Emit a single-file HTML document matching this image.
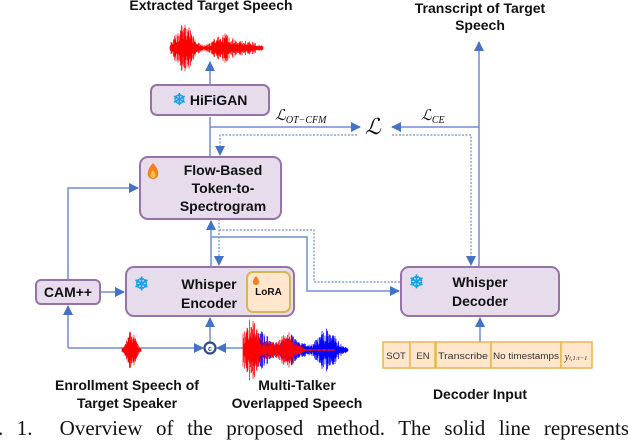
<!DOCTYPE html>
<html><head><meta charset="utf-8"><style>
body{margin:0;width:628px;height:444px;overflow:hidden;background:#fff;position:relative;font-family:"Liberation Sans",sans-serif}
.t{position:absolute;font-weight:bold;font-size:14px;color:#111;text-align:center;white-space:nowrap}
</style></head><body>
<svg width="628" height="444" style="position:absolute;left:0;top:0">
<defs>
<marker id="a" markerWidth="10" markerHeight="10" refX="9" refY="5" orient="auto" markerUnits="userSpaceOnUse"><path d="M0,0 L10,5 L0,10z" fill="#4472c4"/></marker>
</defs>
<g fill="none" stroke="#6f8fd0" stroke-width="1.5">
<path d="M210,115 V62" marker-end="url(#a)"/>
<path d="M210,157 V117"/>
<path d="M210,127 H360" marker-end="url(#a)"/>
<path d="M479,127 H392" marker-end="url(#a)"/>
<path d="M479,267 V42" marker-end="url(#a)"/>
<path d="M211,267 V221" marker-end="url(#a)"/>
<path d="M211,237 H307 V291 H399" marker-end="url(#a)"/>
<path d="M68,280 V188 H138" marker-end="url(#a)"/>
<path d="M100,292 H124" marker-end="url(#a)"/>
<path d="M68,348 V306" marker-end="url(#a)"/>
<path d="M68,348 H203" marker-end="url(#a)"/>
<path d="M245,348 H217" marker-end="url(#a)"/>
<path d="M210,343 V318" marker-end="url(#a)"/>
<path d="M480,342 V318" marker-end="url(#a)"/>
</g>
<g fill="none" stroke="#6f8fd0" stroke-width="1.2" stroke-dasharray="2,1.5">
<path d="M357,135 H220 V155" marker-end="url(#a)"/>
<path d="M392,135 H471 V265" marker-end="url(#a)"/>
<path d="M219,219 V265" marker-end="url(#a)"/>
<path d="M219,230 H314 V282 H400"/>
</g>
<circle cx="210" cy="348" r="5.5" fill="#fff" stroke="#2f4a80" stroke-width="2.2"/>
<text x="210" y="351" font-size="7" text-anchor="middle" font-weight="bold" fill="#2f4a80" font-family="Liberation Sans">c</text>
<g stroke="#9673a6" stroke-width="2" fill="#e6dcec">
<rect x="151" y="85" width="118" height="30" rx="6"/>
<rect x="140" y="157" width="141" height="62" rx="8"/>
<rect x="126" y="267" width="168" height="49" rx="8"/>
<rect x="36" y="280" width="64" height="24" rx="5"/>
<rect x="401" y="267" width="158" height="49" rx="8"/>
</g>
<rect x="247" y="272" width="43" height="40" rx="6" fill="#ffe6cc" stroke="#d6b656" stroke-width="2"/>
<g fill="#ffe6cc" stroke="#e8b94a" stroke-width="1.5">
<rect x="383" y="342" width="27" height="26"/><rect x="410" y="342" width="25" height="26"/><rect x="436" y="342" width="55" height="26"/><rect x="491" y="342" width="70" height="26"/><rect x="561" y="342" width="31" height="26"/>
</g>
<g font-family="Liberation Sans" font-size="9.5" fill="#333" text-anchor="middle">
<text x="396" y="359">SOT</text><text x="423" y="359">EN</text><text x="463" y="359" textLength="50" lengthAdjust="spacingAndGlyphs">Transcribe</text><text x="526" y="359" textLength="66" lengthAdjust="spacingAndGlyphs">No timestamps</text>
<text x="576" y="360" font-family="Liberation Serif" font-style="italic" font-size="10">y<tspan font-size="6.5">i,1:t−1</tspan></text>
</g>
<g fill="#f08020"><path d="M153,163 c-7,7 -7,16 0,16 c7,0 7,-9 0,-16z"/><path d="M256,276 c-4,4 -4,9 0,9 c4,0 4,-5 0,-9z"/></g>
<g fill="#fcc040"><path d="M153,170 c-3.5,3.5 -3.5,8 0,8 c3.5,0 3.5,-4.5 0,-8z"/></g>
<g id="waves"></g>
<g font-family="Liberation Serif" font-style="italic" fill="#111">
<text x="275" y="120" font-size="15">ℒ<tspan font-size="10" dy="3">OT−CFM</tspan></text>
<text x="365" y="134" font-size="22">ℒ</text>
<text x="421" y="120" font-size="15">ℒ<tspan font-size="10" dy="3">CE</tspan></text>
</g>
</svg>
<div class="t" style="left:121px;top:-3px;width:180px">Extracted Target Speech</div>
<div class="t" style="left:395px;top:0px;width:170px;line-height:17px">Transcript of Target<br>Speech</div>
<div class="t" style="left:151px;top:90px;width:118px;font-size:14px"><span style="color:#1ba1e2;font-size:16px">❄</span> HiFiGAN</div>
<div class="t" style="left:158px;top:161px;width:130px;line-height:18px">Flow-Based<br>Token-to-<br>Spectrogram</div>
<div class="t" style="left:174px;top:275px;width:70px;line-height:19px">Whisper<br>Encoder</div>
<div class="t" style="left:134px;top:274px;color:#1ba1e2;font-size:18px">❄</div>
<div class="t" style="left:247px;top:287px;width:43px;font-size:10px">LoRA</div>
<div class="t" style="left:36px;top:284px;width:64px">CAM++</div>
<div class="t" style="left:438px;top:273px;width:84px;line-height:19px">Whisper<br>Decoder</div>
<div class="t" style="left:409px;top:272px;color:#1ba1e2;font-size:18px">❄</div>
<div class="t" style="left:32px;top:376px;width:190px;line-height:18px">Enrollment Speech of<br>Target Speaker</div>
<div class="t" style="left:217px;top:376px;width:160px;line-height:18px">Multi-Talker<br>Overlapped Speech</div>
<div class="t" style="left:400px;top:386px;width:160px">Decoder Input</div>
<div style="position:absolute;left:-2px;top:416px;width:631px;white-space:nowrap;font-family:'Liberation Serif',serif;font-size:21px;color:#111;text-align:justify;text-align-last:justify">. 1.&nbsp; Overview of the proposed method. The solid line represents</div>
<script>
(function(){
var g=document.getElementById('waves'),s=1;
function r(){s=(s*16807)%2147483647;return s/2147483647;}
function wave(x0,x1,cy,env,color){
 var d='';for(var x=x0;x<=x1;x+=0.5){var a=env((x-x0)/(x1-x0))*(0.3+0.7*r());d+='M'+x+','+(cy-a)+'V'+(cy+a);}
 var p=document.createElementNS('http://www.w3.org/2000/svg','path');p.setAttribute('d',d);p.setAttribute('stroke',color);p.setAttribute('stroke-width','0.7');g.appendChild(p);}
function bump(c,w,h){return function(t){return h*Math.exp(-Math.pow((t-c)/w,2));};}
function sum(){var f=arguments;return function(t){var v=1;for(var i=0;i<f.length;i++)v+=f[i](t);return v;};}
wave(170,263,48,sum(bump(0.15,0.12,24),bump(0.58,0.14,14),bump(0.85,0.12,6)),'#f00');
wave(122,141,350,sum(bump(0.5,0.3,19)),'#f00');
wave(245,348,350,sum(bump(0.15,0.1,20),bump(0.45,0.12,16),bump(0.8,0.12,22)),'#00f');
wave(243,335,350,sum(bump(0.08,0.1,28),bump(0.5,0.1,14),bump(0.3,0.2,8)),'#f00');
})();
</script>
</body></html>
